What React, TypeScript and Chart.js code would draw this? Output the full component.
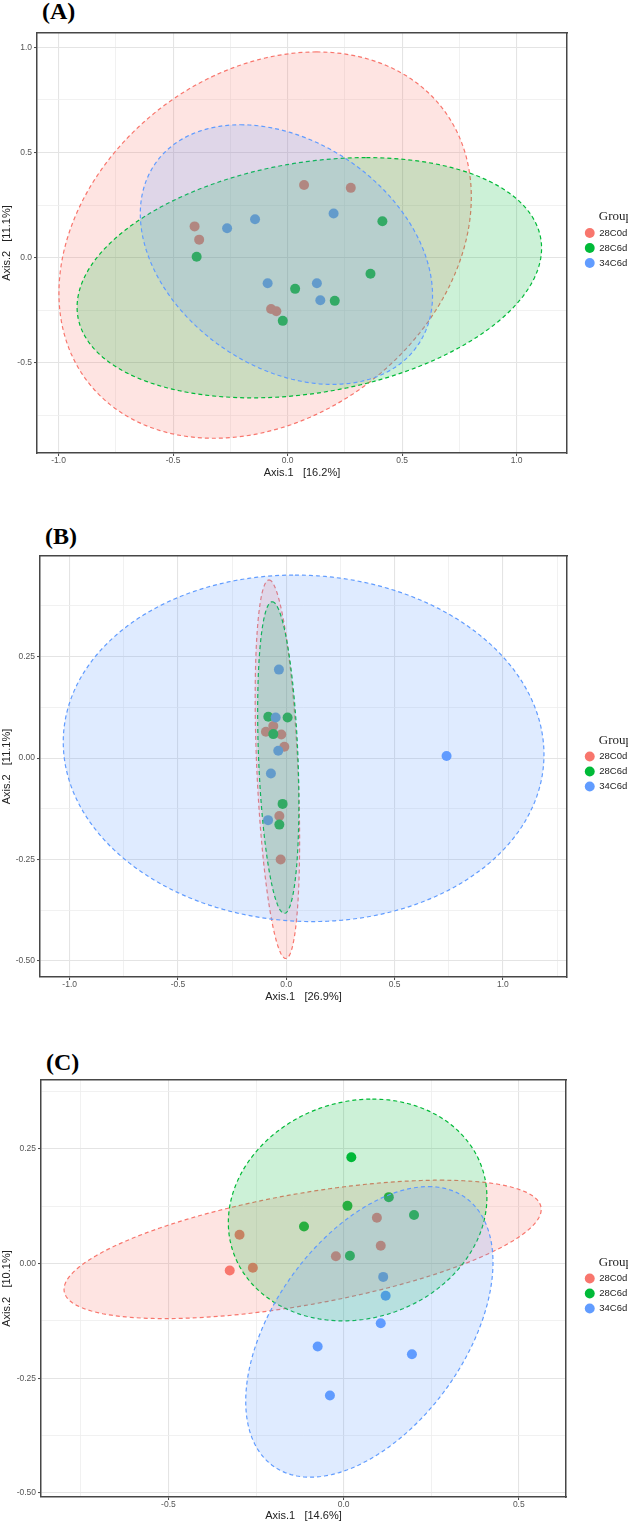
import React, { useEffect, useRef } from 'react';
import { Chart, registerables } from 'chart.js';

Chart.register(...registerables);

// ---------- shared ----------
const groups = ['28C0d', '28C6d', '34C6d'];
const groupColors = ['#F8766D', '#00BA38', '#619CFF'];
const groupFills = ['rgba(248,118,109,0.2)', 'rgba(0,186,56,0.2)', 'rgba(97,156,255,0.2)'];

// ---------- panel A ----------
const pointsA_28C0d = [[0.072, 0.346], [0.276, 0.332], [-0.406, 0.149], [-0.386, 0.086], [-0.072, -0.244], [-0.049, -0.254]];
const pointsA_28C6d = [[0.414, 0.173], [-0.397, 0.005], [0.362, -0.076], [0.033, -0.148], [0.206, -0.205], [-0.021, -0.3]];
const pointsA_34C6d = [[-0.142, 0.183], [-0.264, 0.14], [0.201, 0.21], [-0.087, -0.121], [0.128, -0.121], [0.143, -0.202]];
// ellipse: centre, top-point offset (tx, ty), horizontal conjugate half-diameter h  (order: 28C0d, 28C6d, 34C6d)
const ellipseA_cx = [-0.098, 0.095, -0.005];
const ellipseA_cy = [0.06, -0.095, 0.015];
const ellipseA_tx = [0.224, 0.249, -0.201];
const ellipseA_ty = [0.918, 0.571, 0.617];
const ellipseA_h = [0.872, 0.983, 0.6055];
const xRangeA = [-1.094, 1.22];
const yRangeA = [-0.928, 1.068];
const xMajorA = [-1, -0.5, 0, 0.5, 1];
const xMinorA = [-0.75, -0.25, 0.25, 0.75];
const yMajorA = [-0.5, 0, 0.5, 1];
const yMinorA = [-0.75, -0.25, 0.25, 0.75];
const xTitleA = 'Axis.1   [16.2%]';
const yTitleA = 'Axis.2   [11.1%]';

// ---------- panel B ----------
const pointsB_28C0d = [[-0.06, 0.079], [-0.094, 0.065], [-0.023, 0.058], [-0.009, 0.028], [-0.032, -0.143], [-0.026, -0.25]];
const pointsB_28C6d = [[-0.083, 0.102], [0.006, 0.1], [-0.06, 0.059], [-0.017, -0.113], [-0.032, -0.164]];
const pointsB_34C6d = [[-0.034, 0.218], [-0.049, 0.1], [-0.037, 0.018], [-0.071, -0.038], [-0.084, -0.153], [0.74, 0.005]];
const ellipseB_cx = [-0.041, -0.037, 0.08];
const ellipseB_cy = [-0.0275, 0.0013, 0.024];
const ellipseB_tx = [-0.0387, -0.028, -0.04];
const ellipseB_ty = [0.4665, 0.384, 0.427];
const ellipseB_h = [0.095, 0.091, 1.109];
const xRangeB = [-1.137, 1.296];
const yRangeB = [-0.5396, 0.498];
const xMajorB = [-1, -0.5, 0, 0.5, 1];
const xMinorB = [-0.75, -0.25, 0.25, 0.75, 1.25];
const yMajorB = [-0.5, -0.25, 0, 0.25];
const yMinorB = [-0.375, -0.125, 0.125, 0.375];
const xTitleB = 'Axis.1   [26.9%]';
const yTitleB = 'Axis.2   [11.1%]';

// ---------- panel C ----------
const pointsC_28C0d = [[-0.325, -0.015], [-0.297, 0.063], [-0.259, -0.009], [-0.022, 0.016], [0.095, 0.1], [0.106, 0.039]];
const pointsC_28C6d = [[0.022, 0.232], [0.129, 0.145], [0.011, 0.126], [-0.113, 0.081], [0.201, 0.106], [0.018, 0.017]];
const pointsC_34C6d = [[0.113, -0.029], [0.12, -0.07], [0.106, -0.13], [-0.074, -0.181], [0.195, -0.198], [-0.039, -0.288]];
const ellipseC_cx = [-0.117, 0.04, 0.0735];
const ellipseC_cy = [0.031, 0.117, -0.149];
const ellipseC_tx = [0.393, 0.042, 0.1685];
const ellipseC_ty = [0.151, 0.242, 0.317];
const ellipseC_h = [0.556, 0.3666, 0.31];
const xRangeC = [-0.8636, 0.6347];
const yRangeC = [-0.5093, 0.4006];
const xMajorC = [-0.5, 0, 0.5];
const xMinorC = [-0.75, -0.25, 0.25];
const yMajorC = [-0.5, -0.25, 0, 0.25];
const yMinorC = [-0.375, -0.125, 0.125, 0.375];
const xTitleC = 'Axis.1   [14.6%]';
const yTitleC = 'Axis.2   [10.1%]';

// ---------- helpers ----------
const isIn = (arr: number[], v: any) => typeof v === 'number' && arr.some((a) => Math.abs(a - v) < 1e-9);

function ellipseOutline(cx: number, cy: number, tx: number, ty: number, h: number) {
  const pts: { x: number; y: number }[] = [];
  const n = 200;
  for (let i = 0; i <= n; i++) {
    const t = (i / n) * Math.PI * 2;
    pts.push({ x: cx + tx * Math.cos(t) + h * Math.sin(t), y: cy + ty * Math.cos(t) });
  }
  return pts;
}

const panels = [
  {
    label: '(A)',
    points: [pointsA_28C0d, pointsA_28C6d, pointsA_34C6d],
    ell: [ellipseA_cx, ellipseA_cy, ellipseA_tx, ellipseA_ty, ellipseA_h],
    xRange: xRangeA, yRange: yRangeA,
    xMajor: xMajorA, xMinor: xMinorA, yMajor: yMajorA, yMinor: yMinorA,
    xDec: 1, yDec: 1, xTitle: xTitleA, yTitle: yTitleA,
    lay: { top: 0, h: 480, padTop: 33, yW: 37, rW: 13.5, xH: 27, labelX: 42, labelY: -1.5 },
  },
  {
    label: '(B)',
    points: [pointsB_28C0d, pointsB_28C6d, pointsB_34C6d],
    ell: [ellipseB_cx, ellipseB_cy, ellipseB_tx, ellipseB_ty, ellipseB_h],
    xRange: xRangeB, yRange: yRangeB,
    xMajor: xMajorB, xMinor: xMinorB, yMajor: yMajorB, yMinor: yMinorB,
    xDec: 1, yDec: 2, xTitle: xTitleB, yTitle: yTitleB,
    lay: { top: 500, h: 504, padTop: 56, yW: 40, rW: 13.5, xH: 27, labelX: 45, labelY: 523.5 },
  },
  {
    label: '(C)',
    points: [pointsC_28C0d, pointsC_28C6d, pointsC_34C6d],
    ell: [ellipseC_cx, ellipseC_cy, ellipseC_tx, ellipseC_ty, ellipseC_h],
    xRange: xRangeC, yRange: yRangeC,
    xMajor: xMajorC, xMinor: xMinorC, yMajor: yMajorC, yMinor: yMinorC,
    xDec: 1, yDec: 2, xTitle: xTitleC, yTitle: yTitleC,
    lay: { top: 1004, h: 519, padTop: 76, yW: 41, rW: 14.5, xH: 26, labelX: 46, labelY: 1049.5 },
  },
];

const CANVAS_W = 633;
const GRID_MAJOR = '#E4E4E4';
const GRID_MINOR = '#EEEEEE';
const FRAME = '#474747';
const TICK_COLOR = '#444444';
const TICK_FONT = { family: '"Liberation Sans", Arial, sans-serif', size: 8.5 };
const TITLE_FONT = { family: '"Liberation Sans", Arial, sans-serif', size: 11 };

function axisOpts(p: any, which: 'x' | 'y') {
  const major = which === 'x' ? p.xMajor : p.yMajor;
  const minor = which === 'x' ? p.xMinor : p.yMinor;
  const range = which === 'x' ? p.xRange : p.yRange;
  const dec = which === 'x' ? p.xDec : p.yDec;
  const all = [...major, ...minor].sort((a, b) => a - b);
  return {
    type: 'linear',
    position: which === 'x' ? 'bottom' : 'left',
    min: range[0],
    max: range[1],
    bounds: 'data',
    afterBuildTicks: (s: any) => {
      s.ticks = all.map((v) => ({ value: v }));
    },
    afterFit: (s: any) => {
      if (which === 'x') s.height = p.lay.xH;
      else s.width = p.lay.yW;
    },
    ticks: {
      autoSkip: false,
      maxRotation: 0,
      minRotation: 0,
      padding: which === 'x' ? 0 : 2,
      color: '#555555',
      font: TICK_FONT,
      callback: (v: any) => (isIn(major, v) ? Number(v).toFixed(dec) : ''),
    },
    grid: {
      display: true,
      drawTicks: true,
      tickLength: 3,
      color: (c: any) => (isIn(major, c.tick && c.tick.value) ? GRID_MAJOR : GRID_MINOR),
      lineWidth: (c: any) => (isIn(major, c.tick && c.tick.value) ? 1.1 : 0.8),
      tickColor: (c: any) => (isIn(major, c.tick && c.tick.value) ? TICK_COLOR : 'rgba(0,0,0,0)'),
      tickWidth: 1,
    },
    border: { display: true, color: FRAME, width: 1.5, z: 1 },
    title: {
      display: true,
      text: which === 'x' ? p.xTitle : p.yTitle,
      color: '#222222',
      font: TITLE_FONT,
      padding: which === 'x' ? { top: 0, bottom: 0 } : { top: 0.5, bottom: 0 },
    },
  };
}

function buildConfig(p: any) {
  const datasets: any[] = [];
  // point datasets (drawn underneath the ellipses)
  p.points.forEach((pts: number[][], g: number) => {
    datasets.push({
      type: 'scatter',
      label: groups[g],
      isPoints: true,
      data: pts.map(([x, y]) => ({ x, y })),
      backgroundColor: groupColors[g],
      borderColor: groupColors[g],
      borderWidth: 0,
      pointRadius: 5,
      pointHoverRadius: 5,
      pointStyle: 'circle',
      order: 12 - g,
      xAxisID: 'x',
      yAxisID: 'y',
    });
  });
  // ellipse datasets
  const [cx, cy, tx, ty, h] = p.ell;
  groups.forEach((_, g) => {
    datasets.push({
      type: 'line',
      label: '',
      isPoints: false,
      data: ellipseOutline(cx[g], cy[g], tx[g], ty[g], h[g]),
      borderColor: groupColors[g],
      backgroundColor: groupFills[g],
      borderWidth: 1.2,
      borderDash: [4, 3],
      fill: 'shape',
      showLine: true,
      pointRadius: 0,
      pointHoverRadius: 0,
      tension: 0,
      order: 2 - g,
      xAxisID: 'x',
      yAxisID: 'y',
    });
  });

  return {
    type: 'scatter',
    data: { datasets },
    options: {
      responsive: false,
      maintainAspectRatio: false,
      animation: false,
      devicePixelRatio: 1,
      events: [],
      layout: { padding: { left: 0, right: 0, top: p.lay.padTop, bottom: 0 } },
      plugins: {
        tooltip: { enabled: false },
        title: { display: false },
        legend: {
          display: true,
          position: 'right',
          fullSize: false,
          maxWidth: 52.5,
          title: {
            display: true,
            text: 'Group',
            position: 'end',
            color: '#222222',
            font: { family: '"Liberation Serif", "Times New Roman", serif', size: 13, lineHeight: 1.2 },
            padding: { top: -2.25, bottom: -3.35 },
          },
          labels: {
            usePointStyle: true,
            pointStyle: 'circle',
            boxWidth: 10,
            boxHeight: 7,
            padding: 5.5,
            color: '#222222',
            font: { family: '"Liberation Sans", Arial, sans-serif', size: 9.5 },
            filter: (item: any, data: any) => !!data.datasets[item.datasetIndex].isPoints,
            sort: (a: any, b: any) => a.datasetIndex - b.datasetIndex,
          },
        },
      },
      scales: {
        x: axisOpts(p, 'x'),
        y: axisOpts(p, 'y'),
        xTop: {
          type: 'linear',
          position: 'top',
          display: true,
          min: p.xRange[0],
          max: p.xRange[1],
          ticks: { display: false },
          grid: { display: false, drawTicks: false },
          border: { display: true, color: FRAME, width: 1.5, z: 1 },
          afterFit: (s: any) => {
            s.height = 0;
          },
        },
        yRight: {
          type: 'linear',
          position: 'right',
          display: true,
          min: p.yRange[0],
          max: p.yRange[1],
          ticks: { display: false },
          grid: { display: false, drawTicks: false },
          border: { display: true, color: FRAME, width: 1.5, z: 1 },
          afterFit: (s: any) => {
            s.width = p.lay.rW - 1;
          },
        },
      },
    },
  };
}

function Panel({ p }: { p: any }) {
  const ref = useRef<HTMLCanvasElement>(null);
  useEffect(() => {
    if (!ref.current) return;
    const chart = new Chart(ref.current, buildConfig(p) as any);
    return () => chart.destroy();
  }, [p]);
  return (
    <>
      <div
        style={{
          position: 'absolute',
          left: p.lay.labelX,
          top: p.lay.labelY,
          fontFamily: '"Liberation Serif", "Times New Roman", serif',
          fontWeight: 'bold',
          fontSize: 24,
          lineHeight: '24px',
          color: '#000',
          whiteSpace: 'nowrap',
        }}
      >
        {p.label}
      </div>
      <canvas
        ref={ref}
        width={CANVAS_W - 1}
        height={p.lay.h}
        style={{ position: 'absolute', left: 0, top: p.lay.top, width: CANVAS_W - 1, height: p.lay.h }}
      />
    </>
  );
}

export default function App() {
  return (
    <div
      style={{
        position: 'absolute',
        left: 0,
        top: 0,
        width: 628,
        height: 1527,
        overflow: 'hidden',
        background: '#ffffff',
      }}
    >
      {panels.map((p, i) => (
        <Panel key={i} p={p} />
      ))}
    </div>
  );
}
